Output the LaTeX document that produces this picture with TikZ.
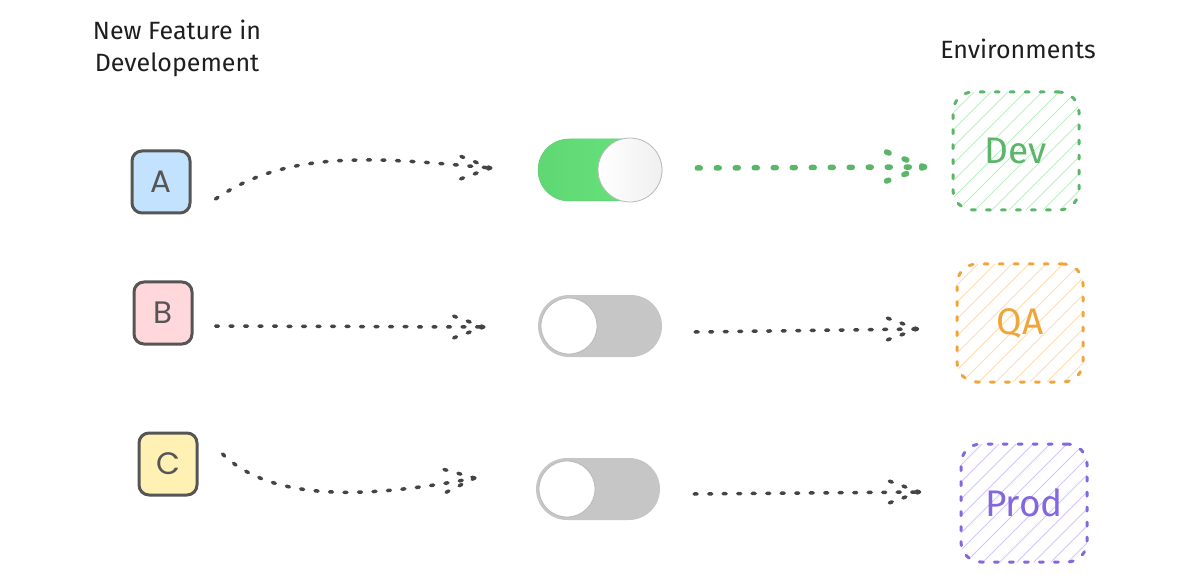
\documentclass[tikz,border=0pt]{standalone}
\usepackage{fontspec}
\setmainfont{Fira Sans}
\newfontfamily\boxfont{Poppins}
\usetikzlibrary{calc}
\definecolor{ink}{HTML}{1E1E1E}
\definecolor{edge}{HTML}{555555}
\definecolor{dotc}{HTML}{444444}
\definecolor{bluef}{HTML}{C3E2FD}
\definecolor{redf}{HTML}{FFD8DB}
\definecolor{yelf}{HTML}{FFF0B3}
\definecolor{tgreen}{HTML}{69E47E}
\definecolor{tgreen2}{HTML}{5FD873}
\definecolor{tgrey}{HTML}{C6C6C6}
\definecolor{devc}{HTML}{5CB569}
\definecolor{devh}{HTML}{B9F0C1}
\definecolor{qac}{HTML}{F0A53A}
\definecolor{qah}{HTML}{FFDDB0}
\definecolor{prodc}{HTML}{8466DF}
\definecolor{prodh}{HTML}{D3C6FF}
\tikzset{
  feat/.style={draw=edge, line width=3pt, rounded corners=10pt, minimum width=58pt, minimum height=62pt,
    font=\boxfont\fontsize{31}{32}\selectfont, text=edge},
  tog/.style={rounded corners=31pt, minimum width=124pt, minimum height=62pt, inner sep=0pt},
  knob/.style={circle, draw=gray!55, line width=0.8pt, fill=white, inner sep=0pt},
  env/.style={line width=3pt, line cap=round, dash pattern=on 4pt off 11pt, rounded corners=20pt,
    minimum width=126pt, minimum height=118pt, font=\fontsize{37}{38}\selectfont},
  hatch/.style={path picture={\foreach \i in {-220,-203,...,220}
    {\draw[#1, line width=1pt, solid] ($(path picture bounding box.center)+(\i-110,110)$) -- ++(220,-220);}}},
  dotline/.style={draw=dotc, line width=3.5pt, line cap=round, dash pattern=on 3pt off 11.5pt},
  gdotline/.style={draw=devc, line width=5.5pt, line cap=round, dash pattern=on 3pt off 16pt},
  title/.style={font=\fontsize{25}{32}\selectfont, text=ink, align=center},
}
\begin{document}
\begin{tikzpicture}[x=1pt,y=-1pt]
\useasboundingbox (0,0) rectangle (1200,580);
% titles
\node[title] (t1) at (177,48) {New Feature in\\Developement};
\node[title] (t2) at (1018,49) {Environments};
% feature boxes
\node[feat, fill=bluef] (A) at (161,182) {A};
\node[feat, fill=redf] (B) at (163,313) {B};
\node[feat, fill=yelf] (C) at (168,464) {C};
% toggles
\node[tog, left color=tgreen2, right color=tgreen, draw=tgreen!90!black, line width=0.5pt] (T1) at (600,170) {};
\node[tog, fill=tgrey] (T2) at (600,326) {};
\node[tog, fill=tgrey] (T3) at (598,489) {};
\node[knob, minimum size=64pt, left color=white, right color=gray!12] (K1) at (630,170) {};
\node[knob, minimum size=56pt] (K2) at (569,326) {};
\node[knob, minimum size=56pt] (K3) at (567,489) {};
% environments
\node[env, draw=devc, text=devc, hatch=devh] (dev) at (1016,151) {Dev};
\node[env, draw=qac, text=qac, hatch=qah] (qa) at (1020,323) {QA};
\node[env, draw=prodc, text=prodc, hatch=prodh] (prod) at (1024,503) {Prod};
% connectors left
\coordinate (a0) at ($(A.east)+(24,17)$);
\coordinate (a1) at ($(T1.west)+(-47,-2)$);
\draw[dotline] (a0) .. controls (290,148) and (380,158) .. (a1);
\draw[dotline] (a1) -- ++(-36,-14);
\draw[dotline] (a1) -- ++(-36,13);
\coordinate (b0) at ($(B.east)+(22,13)$);
\coordinate (b1) at ($(T2.west)+(-54,1)$);
\draw[dotline] (b0) -- (b1);
\draw[dotline] (b1) -- ++(-36,-13);
\draw[dotline] (b1) -- ++(-36,13);
\coordinate (c0) at ($(C.east)+(24,-10)$);
\coordinate (c1) at ($(T3.west)+(-61,-11)$);
\draw[dotline] (c0) .. controls (270,500) and (360,500) .. (c1);
\draw[dotline] (c1) -- ++(-36,-10);
\draw[dotline] (c1) -- ++(-36,18);
% connectors right
\coordinate (d0) at ($(T1.east)+(35,-2)$);
\coordinate (d1) at ($(dev.west)+(-27,16)$);
\draw[gdotline] (d0) -- (d1);
\draw[gdotline] (d1) -- ++(-38,-15);
\draw[gdotline] (d1) -- ++(-38,14);
\coordinate (e0) at ($(T2.east)+(33,6)$);
\coordinate (e1) at ($(qa.west)+(-38,6)$);
\draw[dotline] (e0) -- (e1);
\draw[dotline] (e1) -- ++(-36,-13);
\draw[dotline] (e1) -- ++(-36,13);
\coordinate (f0) at ($(T3.east)+(34,5)$);
\coordinate (f1) at ($(prod.west)+(-40,-11)$);
\draw[dotline] (f0) -- (f1);
\draw[dotline] (f1) -- ++(-36,-13);
\draw[dotline] (f1) -- ++(-36,13);
\end{tikzpicture}
\end{document}
